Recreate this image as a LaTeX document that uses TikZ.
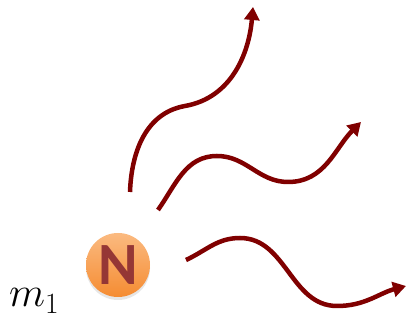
\RequirePackage{fix-cm}
\documentclass[tikz,border=0pt]{standalone}
\usepackage{fontspec}
\usepackage{xcolor}
\usepackage{tikz}
\usetikzlibrary{arrows.meta, positioning, shadows}
\newfontfamily\ballfont{Carlito}

\definecolor{wavered}{RGB}{128,0,0}
\definecolor{balltop}{RGB}{251,186,128}
\definecolor{ballbot}{RGB}{245,140,50}
\definecolor{letterred}{RGB}{149,55,53}

\begin{document}
\begin{tikzpicture}[
    x=1pt, y=1pt,
    particle/.style={circle, minimum size=64pt, inner sep=0pt, top color=balltop, bottom color=ballbot,
        drop shadow={opacity=0.2, shadow xshift=0pt, shadow yshift=-3pt},
        font=\ballfont\bfseries\fontsize{60}{60}\selectfont, text=letterred},
    wave/.style={draw=wavered, line width=4.5pt, -{Triangle[length=13pt, width=15pt]}}
]
    \useasboundingbox (0,0) rectangle (408,323);

    % Particle and label
    \node[particle] (ball) at (118,58) {N};
    \node[anchor=base west, inner sep=0pt, font=\fontsize{42}{42}\selectfont] (mlabel) at (9,16) {$m_1$};

    % Wave ends
    \coordinate (w1s) at (130,131);
    \coordinate (w1e) at (253,316);
    \coordinate (w2s) at (158,113);
    \coordinate (w2e) at (361,201);
    \coordinate (w3s) at (186,63);
    \coordinate (w3e) at (406,37);

    % Outgoing waves
    \draw[wave] (w1s) to[out=88, in=190] (185,217) to[out=10, in=-95] (w1e);
    \draw[wave] (w2s) to[out=55, in=180] (217,167) to[out=0, in=180] (288,141) to[out=0, in=-135] (w2e);
    \draw[wave] (w3s) to[out=25, in=180] (240,85) to[out=0, in=180] (337,17) to[out=0, in=-165] (w3e);
\end{tikzpicture}
\end{document}
